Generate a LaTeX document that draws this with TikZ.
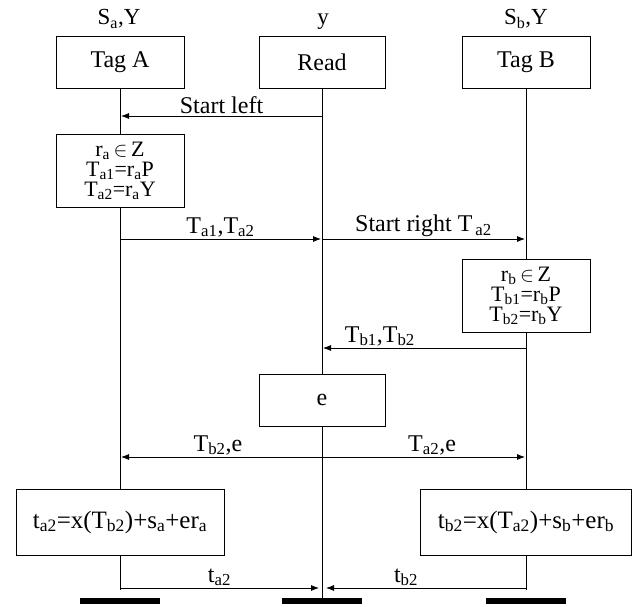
\documentclass[tikz,border=0pt]{standalone}
\usepackage{fontspec}
\setmainfont{Liberation Serif}
\usetikzlibrary{arrows.meta}
\newcommand\sbx[1]{\textsubscript{#1}}
\begin{document}
\begin{tikzpicture}[x=1pt,y=-1pt,
  box/.style={draw, line width=0.9pt, inner sep=0pt, align=center},
  head/.style={font=\fontsize{23}{25}\selectfont, anchor=base},
  big/.style={font=\fontsize{24}{26}\selectfont},
  wide/.style={font=\fontsize{25}{27}\selectfont},
  small/.style={font=\fontsize{22}{20}\selectfont},
  life/.style={line width=0.8pt},
  msg/.style={line width=0.8pt, -{Latex[length=8pt,width=6pt]}},
  lbl/.style={font=\fontsize{24}{26}\selectfont, above, inner sep=1.5pt},
  bar/.style={fill=black, inner sep=0pt, minimum width=80pt, minimum height=6pt}]
\useasboundingbox (0,0) rectangle (638,607);

% participants
\node[head] (hA) at (119,25) {S\sbx{a},Y};
\node[head] (hR) at (323,25) {y};
\node[head] (hB) at (526,25) {S\sbx{b},Y};
\node[box,big,minimum width=128pt,minimum height=52pt] (tagA) at (120,62) {Tag A};
\node[box,big,minimum width=126pt,minimum height=52pt] (read) at (322,62) {Read};
\node[box,big,minimum width=128pt,minimum height=52pt] (tagB) at (526,62) {Tag B};

% computation boxes
\node[box,small,minimum width=128pt,minimum height=73pt] (ra) at (120,171)
  {r\sbx{a}\,$\in$\,Z\\T\sbx{a1}=r\sbx{a}P\\T\sbx{a2}=r\sbx{a}Y};
\node[box,small,minimum width=128pt,minimum height=73pt] (rb) at (526,296)
  {r\sbx{b}\,$\in$\,Z\\T\sbx{b1}=r\sbx{b}P\\T\sbx{b2}=r\sbx{b}Y};
\node[box,big,minimum width=126pt,minimum height=52pt] (e) at (322,400) {e};
\node[box,wide,minimum width=208pt,minimum height=66pt] (ta) at (120,522)
  {t\sbx{a2}=x(T\sbx{b2})+s\sbx{a}+er\sbx{a}};
\node[box,wide,minimum width=211pt,minimum height=66pt] (tb) at (526,522)
  {t\sbx{b2}=x(T\sbx{a2})+s\sbx{b}+er\sbx{b}};

% end bars
\node[bar] (barA) at (120,601) {};
\node[bar] (barR) at (322,601) {};
\node[bar] (barB) at (526,601) {};

% lifelines
\coordinate (endA) at (120,590);
\coordinate (endB) at (526,590);
\draw[life] (tagA.south) -- (ra.north);
\draw[life] (ra.south) -- (ta.north);
\draw[life] (ta.south) -- (endA);
\draw[life] (read.south) -- (e.north);
\draw[life] (e.south) -- (barR.north);
\draw[life] (tagB.south) -- (rb.north);
\draw[life] (rb.south) -- (tb.north);
\draw[life] (tb.south) -- (endB);

% messages
\coordinate (a1) at (121,116); \coordinate (r1) at (322,116);
\draw[msg] (r1) -- (a1) node[lbl,midway] {Start left};

\coordinate (a2) at (120,239); \coordinate (r2) at (321,239);
\coordinate (r2b) at (322,239); \coordinate (b2) at (525,239);
\draw[msg] (a2) -- (r2) node[lbl,midway] {T\sbx{a1},T\sbx{a2}};
\draw[msg] (r2b) -- (b2) node[lbl,midway] {Start right T\hspace{3pt}\sbx{a2}};

\coordinate (r3) at (323,348); \coordinate (b3) at (526,348);
\draw[msg] (b3) -- (r3) node[lbl,pos=0.72] {T\sbx{b1},T\sbx{b2}};

\coordinate (a4) at (121,457); \coordinate (b4) at (525,457);
\draw[line width=0.8pt, {Latex[length=8pt,width=6pt]}-{Latex[length=8pt,width=6pt]}] (a4) -- (b4)
  node[lbl,pos=0.24] {T\sbx{b2},e}
  node[lbl,pos=0.77] {T\sbx{a2},e};

\coordinate (a5) at (120,588); \coordinate (r5l) at (319,588);
\coordinate (r5r) at (326,588); \coordinate (b5) at (526,588);
\draw[msg] (a5) -- (r5l) node[lbl,midway] {t\sbx{a2}};
\draw[msg] (b5) -- (r5r) node[lbl,pos=0.6] {t\sbx{b2}};
\end{tikzpicture}
\end{document}
